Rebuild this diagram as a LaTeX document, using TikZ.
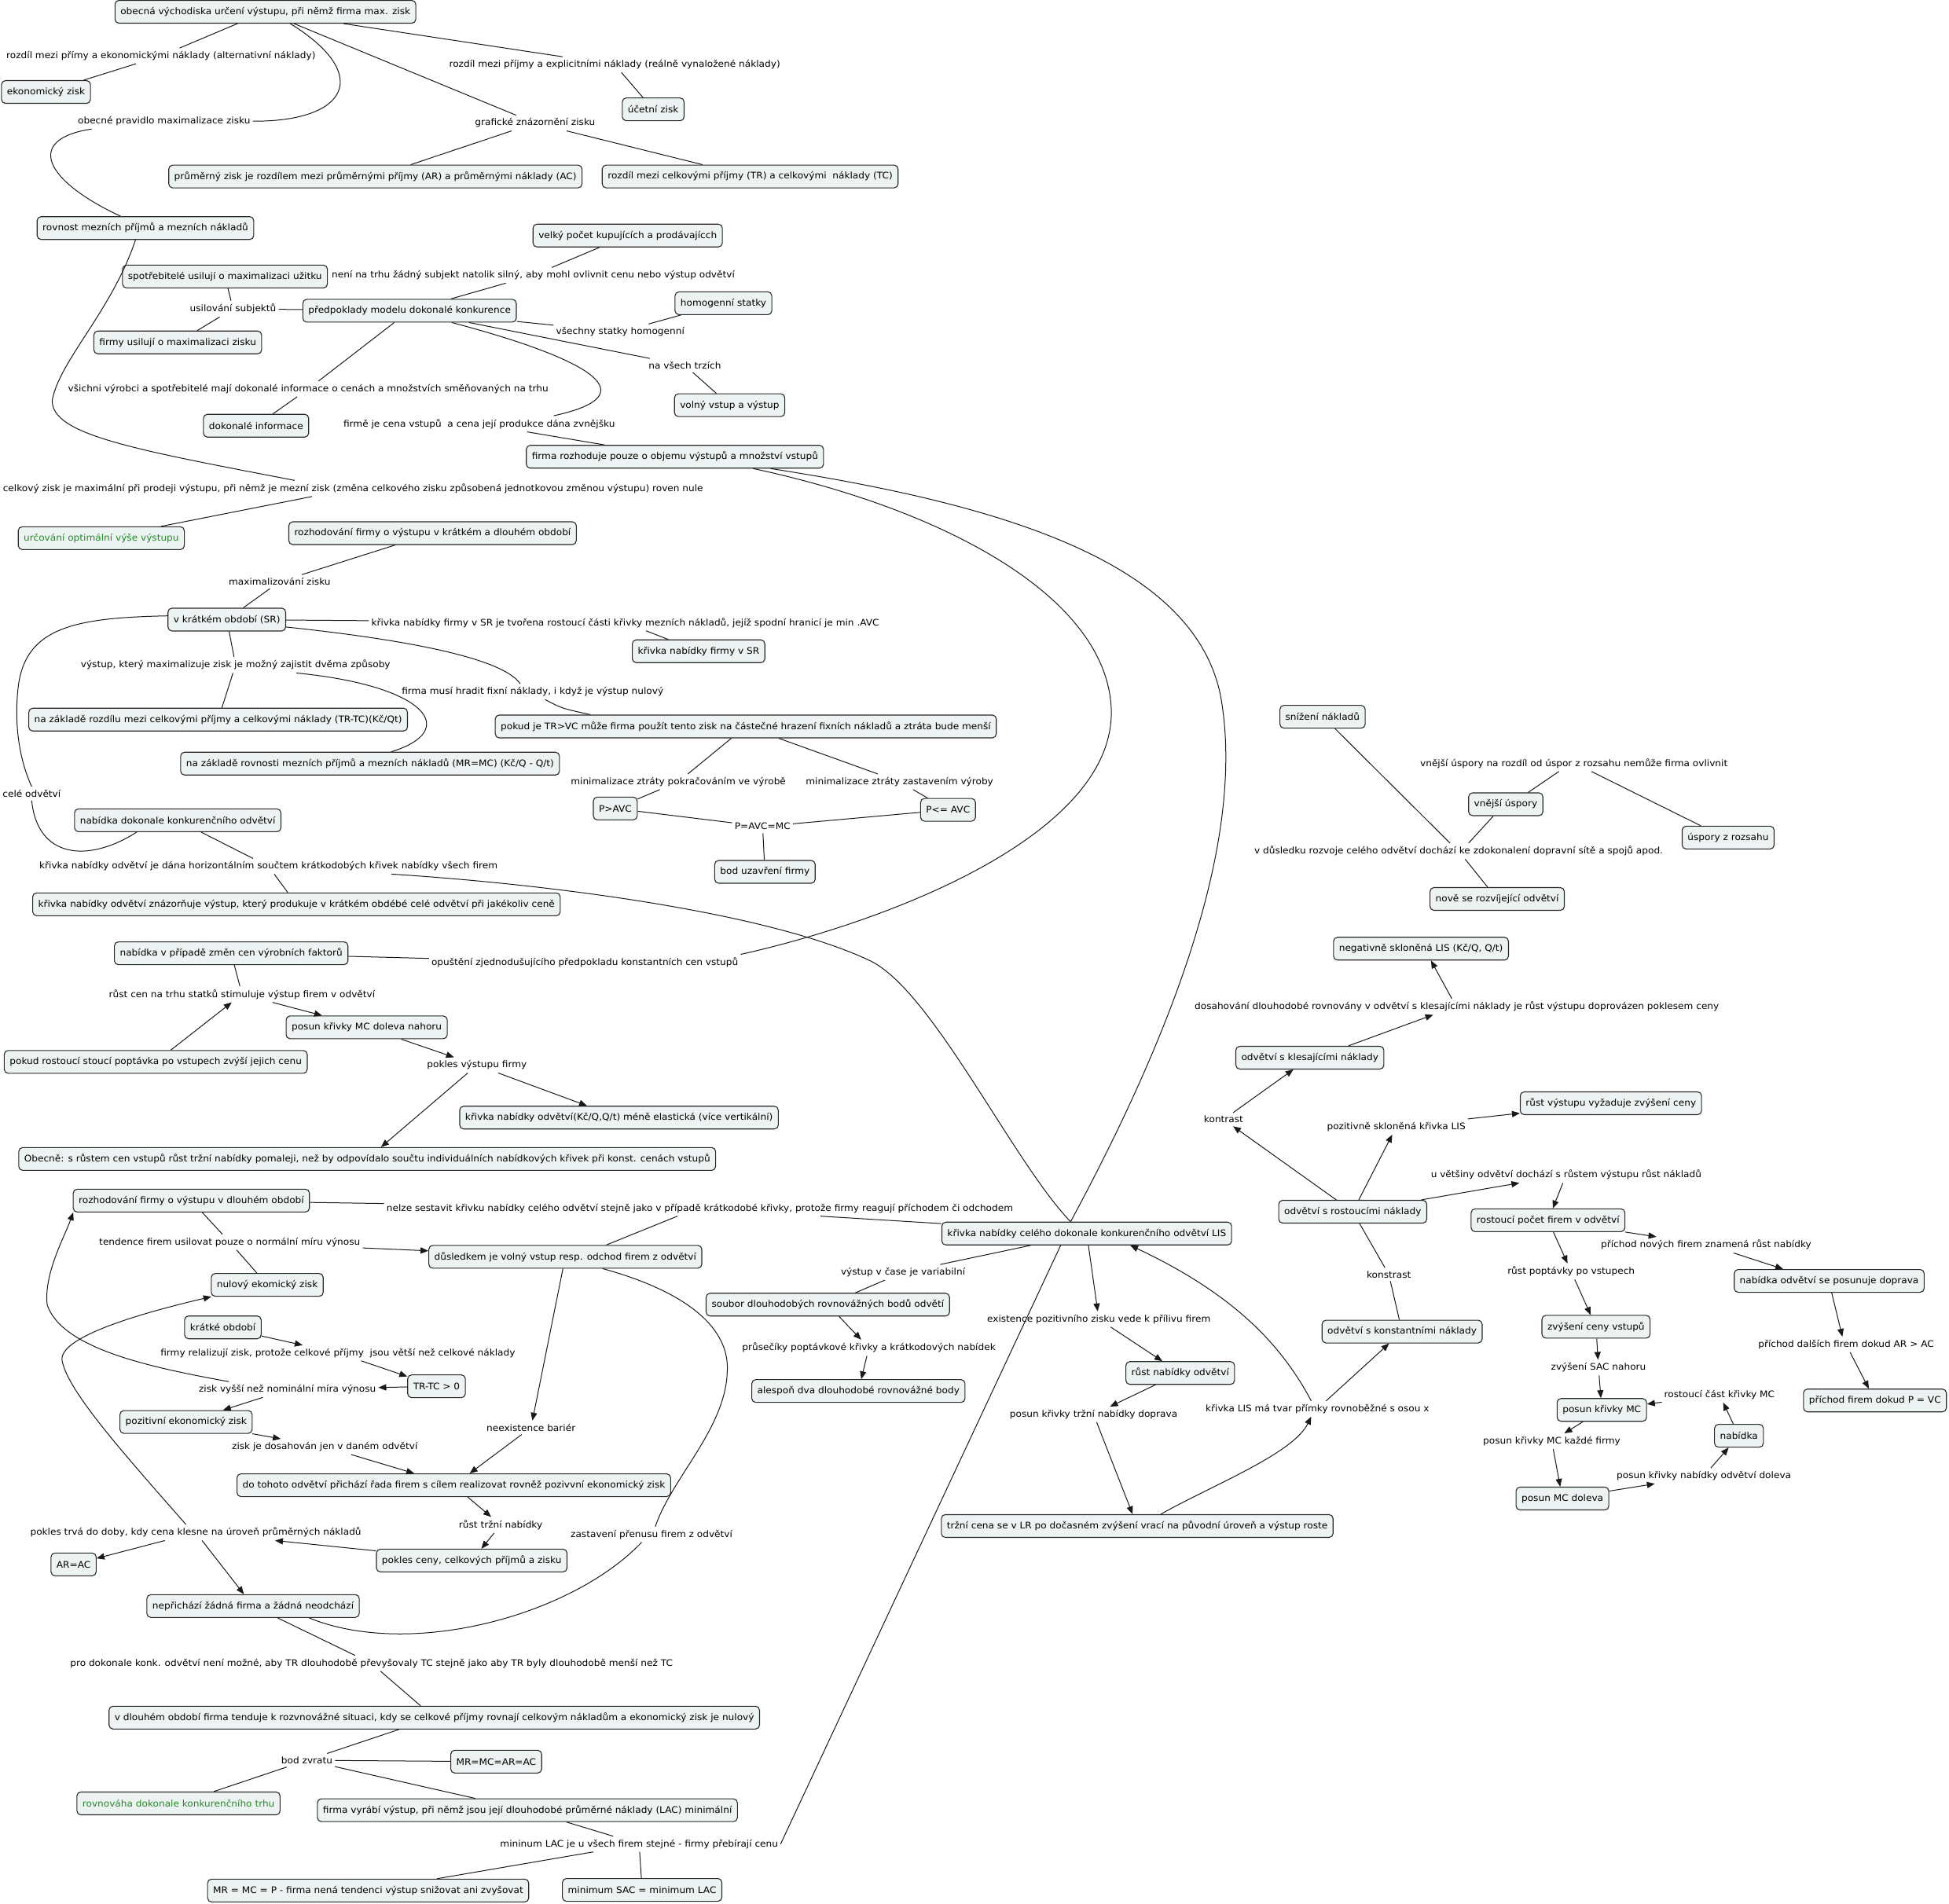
\documentclass[tikz,border=0pt]{standalone}
\usepackage{fontspec}
\setmainfont{DejaVu Sans}[FakeStretch=1.055]
\usetikzlibrary{arrows.meta,calc}
\definecolor{boxfill}{RGB}{237,242,243}
\definecolor{boxline}{RGB}{40,40,40}
\definecolor{mapgreen}{RGB}{34,139,34}
\newcommand\mapfont{\fontsize{11.5}{13.8}\selectfont}
\tikzset{
 concept/.style={draw=boxline, fill=boxfill, rounded corners=5pt, line width=1.1pt, inner xsep=7pt, inner ysep=0pt, minimum height=29pt, font=\mapfont, text=black},
 lab/.style={inner xsep=3pt, inner ysep=4pt, font=\mapfont, text=black},
 gtext/.style={text=mapgreen},
 ln/.style={line width=1pt, draw=black!90},
 ar/.style={ln, -{Triangle[length=10pt,width=8pt]}},
}
\begin{document}
\begin{tikzpicture}[x=1.5816pt,y=-1.5816pt]
\useasboundingbox (0,0) rectangle (1568,1531.4);
\fill[white] (0,0) rectangle (1568,1531.4);
% ---------------- nodes: left part
\node[concept] (c1) at (213.5,9.5) {obecná východiska určení výstupu, při němž firma max. zisk};
\node[lab] (l1) at (129.5,45) {rozdíl mezi přímy a ekonomickými náklady (alternativní náklady)};
\node[concept] (c2) at (37,74) {ekonomický zisk};
\node[lab] (l2) at (494.5,52) {rozdíl mezi příjmy a explicitními náklady (reálně vynaložené náklady)};
\node[concept] (c3) at (525.5,88) {účetní zisk};
\node[lab] (l3) at (132,97.5) {obecné pravidlo maximalizace zisku};
\node[lab] (l4) at (430.5,99) {grafické znázornění zisku};
\node[concept] (c4) at (302,142) {průměrný zisk je rozdílem mezi průměrnými příjmy (AR) a průměrnými náklady (AC)};
\node[concept] (c5) at (603.5,142) {rozdíl mezi celkovými příjmy (TR) a celkovými~ náklady (TC)};
\node[concept] (c6) at (117,183.5) {rovnost mezních příjmů a mezních nákladů};
\node[concept] (c7) at (505,189.5) {velký počet kupujících a prodávajícch};
\node[concept] (c8) at (181,222.5) {spotřebitelé usilují o maximalizaci užitku};
\node[lab] (l5) at (429,221.5) {není na trhu žádný subjekt natolik silný, aby mohl ovlivnit cenu nebo výstup odvětví};
\node[concept] (c9) at (582,244) {homogenní statky};
\node[lab] (l6) at (187.5,248.5) {usilování subjektů};
\node[concept] (c10) at (329.5,250) {předpoklady modelu dokonalé konkurence};
\node[concept] (c11) at (143,275.5) {firmy usilují o maximalizaci zisku};
\node[lab] (l7) at (499,267) {všechny statky homogenní};
\node[lab] (l8) at (551,294) {na všech trzích};
\node[lab] (l9) at (248,313) {všichni výrobci a spotřebitelé mají dokonalé informace o cenách a množstvích směňovaných na trhu};
\node[concept] (c12) at (587,326) {volný vstup a výstup};
\node[concept] (c13) at (206,342.5) {dokonalé informace};
\node[lab] (l10) at (385.5,341) {firmě je cena vstupů~ a cena její produkce dána zvnějšku};
\node[concept] (c14) at (543,367.5) {firma rozhoduje pouze o objemu výstupů a množství vstupů};
\node[lab] (l11) at (284,393) {celkový zisk je maximální při prodeji výstupu, při němž je mezní zisk (změna celkového zisku způsobená jednotkovou změnou výstupu) roven nule};
\node[concept,gtext] (c15) at (81.5,433) {určování optimální výše výstupu};
\node[concept] (c16) at (348,429) {rozhodování firmy o výstupu v krátkém a dlouhém období};
\node[lab] (l12) at (225,468) {maximalizování zisku};
\node[concept] (c17) at (182.5,498.5) {v krátkém období (SR)};
\node[lab] (l13) at (503,501) {křivka nabídky firmy v SR je tvořena rostoucí části křivky mezních nákladů, jejíž spodní hranicí je min .AVC};
\node[concept] (c18) at (562,524) {křivka nabídky firmy v SR};
\node[lab] (l14) at (189.5,535) {výstup, který maximalizuje zisk je možný zajistit dvěma způsoby};
\node[lab] (l15) at (428.5,556.5) {firma musí hradit fixní náklady, i když je výstup nulový};
\node[concept] (c19) at (175.5,579) {na základě rozdílu mezi celkovými příjmy a celkovými náklady (TR-TC)(Kč/Qt)};
\node[concept] (c20) at (600,584.5) {pokud je TR>VC může firma použít tento zisk na částečné hrazení fixních nákladů a ztráta bude menší};
\node[concept] (c21) at (297.7,614.4) {na základě rovnosti mezních příjmů a mezních nákladů (MR=MC) (Kč/Q - Q/t)};
\node[lab] (l16) at (25.5,638.5) {celé odvětví};
\node[lab] (l17) at (545.7,629) {minimalizace ztráty pokračováním ve výrobě};
\node[lab] (l18) at (723.7,629) {minimalizace ztráty zastavením výroby};
\node[concept] (c22) at (495,650.5) {P>AVC};
\node[concept] (c23) at (762.7,651.6) {P<= AVC};
\node[lab] (l19) at (613.5,665) {P=AVC=MC};
\node[concept] (c24) at (143,660) {nabídka dokonale konkurenčního odvětví};
\node[concept] (c25) at (615.4,701.5) {bod uzavření firmy};
\node[lab] (l20) at (216,697) {křivka nabídky odvětví je dána horizontálním součtem krátkodobých křivek nabídky všech firem};
\node[concept] (c26) at (238.5,727.6) {křivka nabídky odvětví znázorňuje výstup, který produkuje v krátkém obdébé celé odvětví při jakékoliv ceně};
\node[concept] (c27) at (186,767) {nabídka v případě změn cen výrobních faktorů};
\node[lab] (l21) at (470.5,774.4) {opuštění zjednodušujícího předpokladu konstantních cen vstupů};
\node[lab] (l22) at (194.7,800) {růst cen na trhu statků stimuluje výstup firem v odvětví};
\node[concept] (c28) at (295,826.6) {posun křivky MC doleva nahoru};
\node[concept] (c29) at (125.3,854.4) {pokud rostoucí stoucí poptávka po vstupech zvýší jejich cenu};
\node[lab] (l23) at (383.7,857) {pokles výstupu firmy};
\node[concept] (c30) at (498,899.2) {křivka nabídky odvětví(Kč/Q,Q/t) méně elastická (více vertikální)};
\node[concept] (c31) at (295.4,932.5) {Obecně: s růstem cen vstupů růst tržní nabídky pomaleji, než by odpovídalo součtu individuálních nabídkových křivek při konst. cenách vstupů};
\node[concept] (c32) at (153.9,966) {rozhodování firmy o výstupu v dlouhém období};
\node[lab] (l24) at (563,972.2) {nelze sestavit křivku nabídky celého odvětví stejně jako v případě krátkodobé křivky, protože firmy reagují příchodem či odchodem};
\node[concept] (c33) at (874.3,992.5) {křivka nabídky celého dokonale konkurenčního odvětví LIS};
\node[lab] (l25) at (184.8,999.4) {tendence firem usilovat pouze o normální míru výnosu};
\node[concept] (c34) at (454.8,1011.2) {důsledkem je volný vstup resp. odchod firem z odvětví};
\node[lab] (l26) at (726.5,1023.7) {výstup v čase je variabilní};
\node[concept] (c35) at (215,1033.8) {nulový ekomický zisk};
\node[concept] (c36) at (666,1049.7) {soubor dlouhodobých rovnovážných bodů odvětí};
\node[lab] (l37) at (884,1061.4) {existence pozitivního zisku vede k přílivu firem};
\node[concept] (c37) at (179.3,1068) {krátké období};
\node[lab] (l54) at (699,1084.4) {průsečíky poptávkové křivky a krátkodových nabídek};
\node[lab] (l27) at (271.8,1088.6) {firmy relalizují zisk, protože celkové příjmy~ jsou větší než celkové náklady};
\node[concept] (c50) at (949.5,1104.7) {růst nabídky odvětví};
\node[concept] (c38) at (351.2,1115.4) {TR-TC > 0};
\node[lab] (l28) at (231.2,1118) {zisk vyšší než nominální míra výnosu};
\node[concept] (c68) at (690.6,1119.2) {alespoň dva dlouhodobé rovnovážné body};
\node[lab] (l38) at (879.8,1138) {posun křivky tržní nabídky doprava};
\node[lab] (l39) at (1059.9,1133.5) {křivka LIS má tvar přímky rovnoběžné s osou x};
\node[concept] (c39) at (149.7,1144.1) {pozitivní ekonomický zisk};
\node[lab] (l29) at (427.2,1148.6) {neexistence bariér};
\node[lab] (l30) at (261.3,1164) {zisk je dosahován jen v daném odvětví};
\node[concept] (c40) at (365.1,1195) {do tohoto odvětví přichází řada firem s cílem realizovat rovněž pozivvní ekonomický zisk};
\node[concept] (c51) at (914.9,1227.8) {tržní cena se v LR po dočasném zvýšení vrací na původní úroveň a výstup roste};
\node[lab] (l31) at (402.8,1227) {růst tržní nabídky};
\node[lab] (l32) at (524.2,1234.6) {zastavení přenusu firem z odvětví};
\node[lab] (l33) at (157.5,1233) {pokles trvá do doby, kdy cena klesne na úroveň průměrných nákladů};
\node[concept] (c41) at (379.5,1255.6) {pokles ceny, celkových příjmů a zisku};
\node[concept] (c42) at (59.2,1258.7) {AR=AC};
\node[concept] (c43) at (203.6,1292.2) {nepřichází žádná firma a žádná neodchází};
\node[lab] (l34) at (298.8,1338.3) {pro dokonale konk. odvětví není možné, aby TR dlouhodobě převyšovaly TC stejně jako aby TR byly dlouhodobě menší než TC};
\node[concept] (c44) at (349.4,1382) {v dlouhém období firma tenduje k rozvnovážné situaci, kdy se celkové příjmy rovnají celkovým nákladům a ekonomický zisk je nulový};
\node[lab] (l35) at (246.9,1416.3) {bod zvratu};
\node[concept] (c45) at (399.2,1417.4) {MR=MC=AR=AC};
\node[concept,gtext] (c46) at (143.6,1451) {rovnováha dokonale konkurenčního trhu};
\node[concept] (c47) at (424.3,1456.5) {firma vyrábí výstup, při němž jsou její dlouhodobé průměrné náklady (LAC) minimální};
\node[lab] (l36) at (514.2,1483.7) {mininum LAC je u všech firem stejné - firmy přebírají cenu};
\node[concept] (c48) at (296.2,1521.1) {MR = MC = P - firma nená tendenci výstup snižovat ani zvyšovat};
\node[concept] (c49) at (516.6,1520.6) {minimum SAC = minimum LAC};
% ---------------- nodes: right part
\node[concept] (c52) at (1064,576.7) {snížení nákladů};
\node[lab] (l40) at (1266.2,614.2) {vnější úspory na rozdíl od úspor z rozsahu nemůže firma ovlivnit};
\node[concept] (c53) at (1211.4,647.1) {vnější úspory};
\node[concept] (c54) at (1390.3,673.9) {úspory z rozsahu};
\node[lab] (l41) at (1173.5,684.8) {v důsledku rozvoje celého odvětví dochází ke zdokonalení dopravní sítě a spojů apod.};
\node[concept] (c55) at (1204.5,723.3) {nově se rozvíjející odvětví};
\node[concept] (c56) at (1143.2,763.3) {negativně skloněná LIS (Kč/Q, Q/t)};
\node[lab] (l42) at (1172,810) {dosahování dlouhodobé rovnovány v odvětví s klesajícími náklady je růst výstupu doprovázen poklesem ceny};
\node[concept] (c57) at (1053.8,851) {odvětví s klesajícími náklady};
\node[concept] (c58) at (1296,887.7) {růst výstupu vyžaduje zvýšení ceny};
\node[lab] (l43) at (984.4,900.7) {kontrast};
\node[lab] (l44) at (1123.3,906.6) {pozitivně skloněná křivka LIS};
\node[lab] (l45) at (1260,945.3) {u většiny odvětví dochází s růstem výstupu růst nákladů};
\node[concept] (c59) at (1088.3,974.9) {odvětví s rostoucími náklady};
\node[concept] (c60) at (1245.4,981.8) {rostoucí počet firem v odvětví};
\node[lab] (l46) at (1372.6,1001.6) {příchod nových firem znamená růst nabídky};
\node[lab] (l47) at (1264,1023) {růst poptávky po vstupech};
\node[concept] (c61) at (1471.6,1030.6) {nabídka odvětví se posunuje doprava};
\node[lab] (l48) at (1117.3,1025.4) {konstrast};
\node[concept] (c62) at (1284,1067.5) {zvýšení ceny vstupů};
\node[concept] (c63) at (1128,1071.4) {odvětví s konstantními náklady};
\node[lab] (l49) at (1485.2,1081.8) {příchod dalších firem dokud AR > AC};
\node[lab] (l50) at (1286,1100.4) {zvýšení SAC nahoru};
\node[lab] (l51) at (1383.3,1122.2) {rostoucí část křivky MC};
\node[concept] (c64) at (1508.4,1126.8) {příchod firem dokud P = VC};
\node[concept] (c65) at (1288.7,1134.4) {posun křivky MC};
\node[concept] (c66) at (1399,1155.2) {nabídka};
\node[lab] (l52) at (1248.4,1159.6) {posun křivky MC každé firmy};
\node[lab] (l53) at (1370.8,1187.5) {posun křivky nabídky odvětví doleva};
\node[concept] (c67) at (1257,1205.7) {posun MC doleva};
% ---------------- connectors: top
\draw[ln] (c1) -- (l1);
\draw[ln] (l1) -- (c2);
\draw[ln] (c1) -- (l2);
\draw[ln] (l2) -- (c3);
\draw[ln] ($(c1.south)+(20,0)$) .. controls (300,60) and (280,98) .. (l3.east);
\draw[ln] ($(l3.south west)+(13,0)$) .. controls (20,112) and (35,145) .. ($(c6.north)+(-20,0)$);
\draw[ln] (c1) -- (l4);
\draw[ln] (l4) -- (c4);
\draw[ln] (l4) -- (c5);
\draw[ln] ($(c6.south)+(-8,0)$) .. controls (90,250) and (48,290) .. (42,322) .. controls (41,350) and (110,362) .. ($(l11.north)+(-47,0)$);
\draw[ln] (l11) -- (c15);
\draw[ln] (c7) -- (l5);
\draw[ln] (l5) -- (c10);
\draw[ln] (c10) -- (l6);
\draw[ln] (l6) -- (c8);
\draw[ln] (l6) -- (c11);
\draw[ln] (c10) -- (l7);
\draw[ln] (l7) -- (c9);
\draw[ln] (c10) -- (l8);
\draw[ln] (l8) -- (c12);
\draw[ln] (c10) -- (l9);
\draw[ln] (l9) -- (c13);
\draw[ln] ($(c10.south)+(34,0)$) .. controls (460,285) and (530,316) .. ($(l10.north)+(60,0)$);
\draw[ln] (l10) -- (c14);
\draw[ln] ($(c14.south)+(63,0)$) .. controls (760,410) and (890,480) .. (894,570) .. controls (898,670) and (720,740) .. (l21.north east);
\draw[ln] ($(c14.south)+(77,0)$) .. controls (800,405) and (960,450) .. (982,560) .. controls (1000,660) and (960,800) .. ($(c33.north)+(-13,0)$);
\draw[ln] (l21) -- (c27);
% short run
\draw[ln] (c16) -- (l12);
\draw[ln] (l12) -- (c17);
\draw[ln] (c17) -- (l13);
\draw[ln] (l13) -- (c18);
\draw[ln] (c17) -- (l14);
\draw[ln] (l14) -- (c19);
\draw[ln] ($(l14.south)+(49,0)$) .. controls (345,552) and (370,588) .. ($(c21.north)+(17,0)$);
\draw[ln] ($(c17.east)+(0,6)$) .. controls (330,515) and (405,530) .. ($(l15.north)+(-10,0)$);
\draw[ln] ($(l15.south)+(10,0)$) .. controls (452,570) .. ($(c20.north)+(-125,0)$);
\draw[ln] (c20) -- (l17);
\draw[ln] (l17) -- (c22);
\draw[ln] (c20) -- (l18);
\draw[ln] (l18) -- (c23);
\draw[ln] (c22) -- (l19);
\draw[ln] (c23) -- (l19);
\draw[ln] (l19) -- (c25);
\draw[ln] ($(c17.west)+(0,-3)$) .. controls (60,497) and (22,505) .. (15,550) .. controls (11,580) and (15,610) .. (l16.north);
\draw[ln] (l16.south) .. controls (30,690) and (70,695) .. ($(c24.south)+(-33,0)$);
\draw[ln] (c24) -- (l20);
\draw[ln] (l20) -- (c26);
\draw[ln] ($(l20.south)+(99,0)$) .. controls (450,712) and (620,735) .. (700,773) .. controls (750,797) and (815,935) .. ($(c33.north)+(-13,0)$);
% input prices
\draw[ln] (c27) -- (l22);
\draw[ar] (c29) -- (l22);
\draw[ar] (l22) -- (c28);
\draw[ar] (c28) -- (l23);
\draw[ar] (l23) -- (c30);
\draw[ar] (l23) -- (c31);
% long run
\draw[ln] (c32) -- (l24);
\draw[ln] ($(l24.south)+(97,0)$) -- ($(c33.west)+(0,-8)$);
\draw[ln] ($(l24.south)+(-18,0)$) -- ($(c34.north)+(33,0)$);
\draw[ln] (c32) -- (l25);
\draw[ln] (l25) -- (c35);
\draw[ar] (l25) -- (c34);
\draw[ln] (c33) -- (l26);
\draw[ln] (l26) -- (c36);
\draw[ar] (c36) -- (l54);
\draw[ar] (l54) -- (c68);
\draw[ar] (c33) -- (l37);
\draw[ar] (l37) -- (c50);
\draw[ar] (c50) -- (l38);
\draw[ar] (l38) -- (c51);
\draw[ar] ($(c51.north)+(19,0)$) .. controls (975,1195) and (1040,1170) .. ($(l39.south)+(-5,0)$);
\draw[ar] ($(l39.north)+(-5,0)$) .. controls (1030,1080) and (990,1040) .. ($(c33.south)+(35,0)$);
\draw[ar] (l39) -- (c63);
\draw[ln] (c63) -- (l48);
\draw[ln] (l48) -- (c59);
\draw[ln] ($(c33.south)+(-21,0)$) -- (l36.east);
\draw[ln] (l36) -- (c47);
\draw[ln] (l36) -- (c48);
\draw[ln] (l36) -- (c49);
\draw[ar] (c34) -- (l29);
\draw[ar] (l29) -- (c40);
\draw[ln] ($(c34.south)+(30,0)$) .. controls (555,1040) and (588,1070) .. (585,1105) .. controls (583,1150) and (540,1190) .. ($(l32.north)+(3,0)$);
\draw[ln] ($(l32.south)+(-8,0)$) .. controls (460,1300) and (330,1335) .. ($(c43.south)+(45,0)$);
\draw[ar] (c37) -- (l27);
\draw[ar] (l27) -- (c38);
\draw[ar] (c38) -- (l28);
\draw[ar] ($(l28.north)+(-47,0)$) .. controls (120,1100) and (50,1085) .. (38,1050) .. controls (35,1025) and (52,995) .. ($(c32.south)+(-95,0)$);
\draw[ar] (l28) -- (c39);
\draw[ar] (c39) -- (l30);
\draw[ar] (l30) -- (c40);
\draw[ar] (c40) -- (l31);
\draw[ar] (l31) -- (c41);
\draw[ar] (c41) -- (l33);
\draw[ar] (l33) -- (c42);
\draw[ar] (l33) -- (c43);
\draw[ar] ($(l33.north)+(-8,0)$) .. controls (100,1170) and (55,1120) .. (50,1095) .. controls (46,1075) and (120,1055) .. ($(c35.south)+(-45,0)$);
\draw[ln] (c43) -- (l34);
\draw[ln] (l34) -- (c44);
\draw[ln] (c44) -- (l35);
\draw[ln] (l35) -- (c45);
\draw[ln] (l35) -- (c46);
\draw[ln] (l35) -- (c47);
% ---------------- connectors: right
\draw[ln] (c55) -- (l41);
\draw[ln] ($(l41.north)+(-7,0)$) -- ($(c52.south)+(10,0)$);
\draw[ln] ($(l41.north)+(8,0)$) -- ($(c53.south)+(-10,0)$);
\draw[ln] ($(c53.north)+(18,0)$) -- ($(l40.south)+(-12,0)$);
\draw[ln] ($(l40.south)+(14,0)$) -- ($(c54.north)+(-22,0)$);
\draw[ar] (c59) -- (l43);
\draw[ar] (l43) -- (c57);
\draw[ar] ($(c57.north)+(31,0)$) -- ($(l42.south)+(-19,0)$);
\draw[ar] ($(l42.north)+(-4,0)$) -- ($(c56.south)+(8,0)$);
\draw[ar] (c59) -- (l44);
\draw[ar] (l44) -- (c58);
\draw[ar] (c59) -- (l45);
\draw[ar] (l45) -- (c60);
\draw[ar] (c60.south east) -- ($(l46.north)+(-40,0)$);
\draw[ar] ($(l46.south)+(22,0)$) -- ($(c61.north)+(-37,0)$);
\draw[ar] ($(c61.south)+(2,0)$) -- ($(l49.north)+(-3,0)$);
\draw[ar] (l49) -- (c64);
\draw[ar] (c60) -- (l47);
\draw[ar] (l47) -- (c62);
\draw[ar] (c62) -- (l50);
\draw[ar] (l50) -- (c65);
\draw[ar] (c65) -- (l52);
\draw[ar] (l52) -- (c67);
\draw[ar] (c67) -- (l53);
\draw[ar] (l53) -- (c66);
\draw[ar] (c66) -- (l51);
\draw[ar] (l51) -- (c65);
\end{tikzpicture}
\end{document}
